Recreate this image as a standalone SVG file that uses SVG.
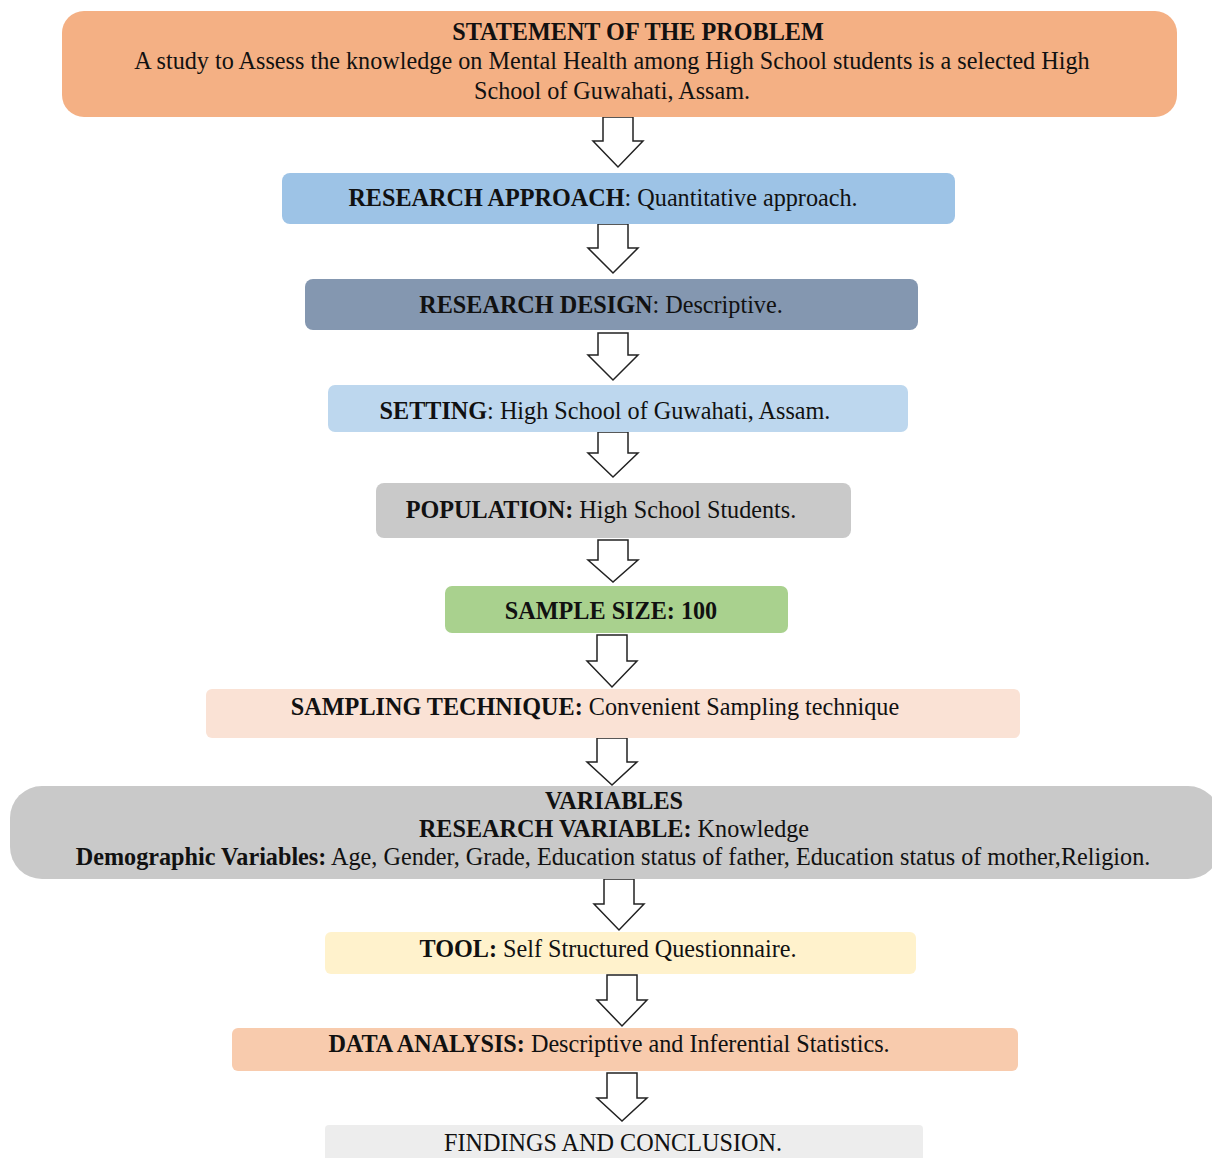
<svg xmlns="http://www.w3.org/2000/svg" width="1212" height="1158" viewBox="0 0 1212 1158">
<style>
text{font-family:"Liberation Serif","Times New Roman",serif;font-size:24.2px;fill:#111;text-anchor:middle}
.b{font-weight:bold}
.arrow{fill:#fff;stroke:#222;stroke-width:1.5;stroke-linejoin:miter}
</style>
<rect width="1212" height="1158" fill="#fff"/>
<g id="connectors">
<polygon class="arrow" points="603,117 633,117 633,141 643,141 618,167 593,141 603,141"/>
<polygon class="arrow" points="598,224 628,224 628,248 638,248 613,273 588,248 598,248"/>
<polygon class="arrow" points="598,333 628,333 628,355 638,355 613,380 588,355 598,355"/>
<polygon class="arrow" points="598,432 628,432 628,453 638,453 613,477 588,453 598,453"/>
<polygon class="arrow" points="598,540 628,540 628,560 638,560 613,582 588,560 598,560"/>
<polygon class="arrow" points="597,635 627,635 627,661 637,661 612,687 587,661 597,661"/>
<polygon class="arrow" points="597,738 627,738 627,762 637,762 612,785 587,762 597,762"/>
<polygon class="arrow" points="604,879 634,879 634,904 644,904 619,930 594,904 604,904"/>
<polygon class="arrow" points="607,975 637,975 637,1000 647,1000 622,1026 597,1000 607,1000"/>
<polygon class="arrow" points="607,1073 637,1073 637,1098 647,1098 622,1121 597,1098 607,1098"/>
</g>
<g id="statement">
<rect x="62" y="11" width="1115" height="106" rx="22" fill="#F4B084"/>
<text x="638" y="40" class="b">STATEMENT OF THE PROBLEM</text>
<text x="612" y="69">A study to Assess the knowledge on Mental Health among High School students is a selected High</text>
<text x="612" y="99">School of Guwahati, Assam.</text>
</g>
<g id="approach">
<rect x="282" y="173" width="673" height="51" rx="8" fill="#9DC3E6"/>
<text x="603" y="206"><tspan class="b">RESEARCH APPROACH</tspan>: Quantitative approach.</text>
</g>
<g id="design">
<rect x="305" y="279" width="613" height="51" rx="8" fill="#8497B0"/>
<text x="601" y="313"><tspan class="b">RESEARCH DESIGN</tspan>: Descriptive.</text>
</g>
<g id="setting">
<rect x="328" y="385" width="580" height="47" rx="7" fill="#BDD7EE"/>
<text x="605" y="419"><tspan class="b">SETTING</tspan>: High School of Guwahati, Assam.</text>
</g>
<g id="population">
<rect x="376" y="483" width="475" height="55" rx="8" fill="#C9C9C9"/>
<text x="601" y="518"><tspan class="b">POPULATION:</tspan> High School Students.</text>
</g>
<g id="samplesize">
<rect x="445" y="586" width="343" height="47" rx="7" fill="#A9D18E"/>
<text x="611" y="619" class="b">SAMPLE SIZE: 100</text>
</g>
<g id="technique">
<rect x="206" y="689" width="814" height="49" rx="6" fill="#FAE2D5"/>
<text x="595" y="715"><tspan class="b">SAMPLING TECHNIQUE:</tspan> Convenient Sampling technique</text>
</g>
<g id="variables">
<rect x="10" y="786" width="1210" height="93" rx="32" fill="#C9C9C9"/>
<text x="614" y="809" class="b">VARIABLES</text>
<text x="614" y="837"><tspan class="b">RESEARCH VARIABLE:</tspan> Knowledge</text>
<text x="613" y="865"><tspan class="b">Demographic Variables:</tspan> Age, Gender, Grade, Education status of father, Education status of mother,Religion.</text>
</g>
<g id="tool">
<rect x="325" y="932" width="591" height="42" rx="6" fill="#FFF2CC"/>
<text x="608" y="957"><tspan class="b">TOOL:</tspan> Self Structured Questionnaire.</text>
</g>
<g id="analysis">
<rect x="232" y="1028" width="786" height="43" rx="6" fill="#F8CBAD"/>
<text x="609" y="1052"><tspan class="b">DATA ANALYSIS:</tspan> Descriptive and Inferential Statistics.</text>
</g>
<g id="findings">
<rect x="325" y="1125" width="598" height="40" rx="4" fill="#EDEDED"/>
<text x="613" y="1151">FINDINGS AND CONCLUSION.</text>
</g>
</svg>
